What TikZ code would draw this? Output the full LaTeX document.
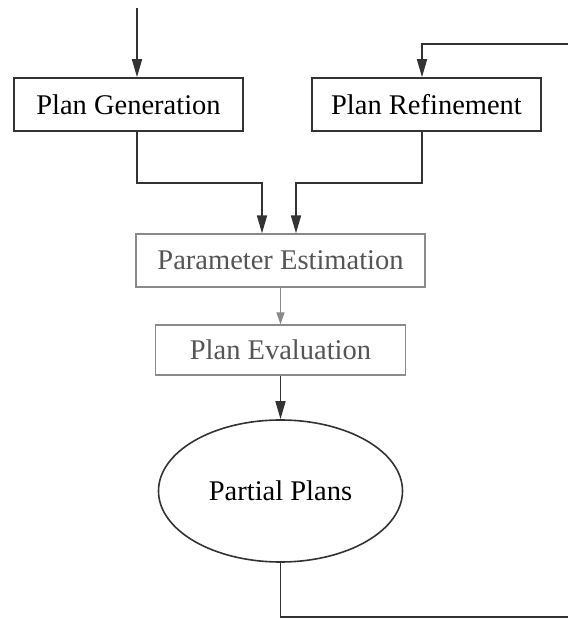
\documentclass[tikz,border=0pt]{standalone}
\usepackage{fontspec}
\setmainfont{Liberation Serif}
\usetikzlibrary{arrows.meta,shapes.geometric}
\definecolor{ink}{HTML}{333333}
\definecolor{soft}{HTML}{8A8A8A}
\definecolor{softtext}{HTML}{555555}
\begin{document}
\begin{tikzpicture}[x=1pt,y=1pt,
  every node/.style={font=\fontsize{28.5}{32}\selectfont},
  darkbox/.style={draw=ink,line width=1.6pt,rectangle,minimum height=53pt,inner sep=0pt,text=black},
  lightbox/.style={draw=soft,line width=1.2pt,rectangle,inner sep=0pt,text=softtext},
  conn/.style={draw=ink,line width=1.6pt},
  arr/.style={conn,-{Triangle[length=18pt,width=10pt]}},
  garr/.style={draw=soft,line width=1.2pt,-{Triangle[length=12pt,width=8pt]}}]
\useasboundingbox (0,0) rectangle (568,619);
\node[darkbox,minimum width=229pt] (pg) at (128.5,514.5) {Plan Generation};
\node[darkbox,minimum width=229pt] (pr) at (426.5,514.5) {Plan Refinement};
\node[lightbox,minimum width=289pt,minimum height=53pt] (pe) at (280.5,358.5) {Parameter Estimation};
\node[lightbox,minimum width=250pt,minimum height=50pt] (pv) at (280.5,269) {Plan Evaluation};
\node[draw=ink,line width=1.6pt,ellipse,minimum width=244pt,minimum height=142pt,inner sep=0pt] (pp) at (280.5,128) {Partial Plans};
\coordinate (in1) at (137,611);
\coordinate (fb) at (568,575);
\coordinate (fbx) at (422,575);
\coordinate (j1) at (262,436);
\coordinate (j2) at (296,436);
\coordinate (out) at (568,2);
\draw[arr] (in1) -- (pg.north -| in1);
\draw[arr] (fb) -- (fbx) -- (pr.north -| fbx);
\draw[arr] (pg.south -| in1) |- (j1) -- (pe.north -| j1);
\draw[arr] (pr.south -| fbx) |- (j2) -- (pe.north -| j2);
\draw[garr] (pe.south) -- (pv.north);
\draw[arr] (pv.south) -- (pp.north);
\draw[conn] (pp.south) |- (out);
\end{tikzpicture}
\end{document}
